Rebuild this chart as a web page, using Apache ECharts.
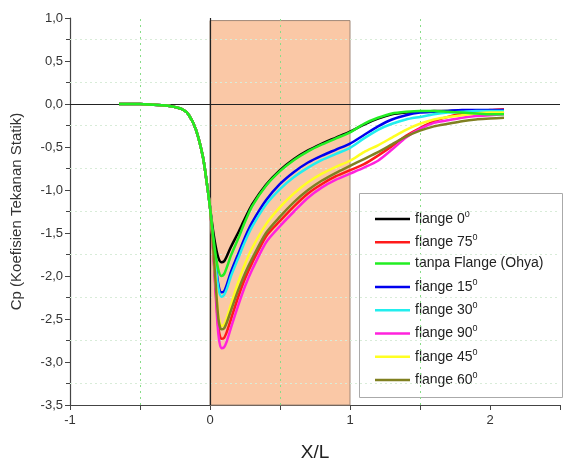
<!DOCTYPE html>
<html><head><meta charset="utf-8">
<script src="https://cdn.jsdelivr.net/npm/echarts@6/dist/echarts.min.js"></script>
<style>html,body{margin:0;padding:0;background:#fff}#c{width:569px;height:463px}</style>
</head><body><div id="c"></div>
<script>
const X = [-0.65,-0.5,-0.4,-0.3,-0.2,-0.15,-0.1,-0.05,-0.02,0,0.02,0.04,0.06,0.08,0.1,0.12,0.15,0.2,0.25,0.3,0.4,0.5,0.6,0.7,0.8,0.9,1.0,1.1,1.2,1.3,1.4,1.5,1.6,1.7,1.8,1.9,2.0,2.1];
const flange0 = [0,0,-0.01,-0.02,-0.06,-0.13,-0.3,-0.62,-0.95,-1.2,-1.45,-1.65,-1.79,-1.84,-1.83,-1.77,-1.66,-1.5,-1.33,-1.17,-0.94,-0.77,-0.64,-0.54,-0.46,-0.39,-0.32,-0.24,-0.17,-0.12,-0.1,-0.09,-0.08,-0.08,-0.08,-0.09,-0.1,-0.11];
const flange75 = [0,0,-0.01,-0.02,-0.06,-0.13,-0.3,-0.62,-0.95,-1.2,-1.62,-2.15,-2.6,-2.73,-2.72,-2.65,-2.5,-2.25,-2.03,-1.85,-1.54,-1.36,-1.19,-1.04,-0.93,-0.84,-0.77,-0.7,-0.6,-0.49,-0.37,-0.28,-0.2,-0.15,-0.11,-0.09,-0.07,-0.06];
const tanpa = [0,0,-0.01,-0.02,-0.06,-0.13,-0.3,-0.62,-0.95,-1.2,-1.5,-1.75,-1.93,-2.0,-1.98,-1.9,-1.76,-1.57,-1.37,-1.19,-0.95,-0.78,-0.65,-0.55,-0.47,-0.4,-0.33,-0.23,-0.16,-0.11,-0.09,-0.08,-0.08,-0.09,-0.1,-0.11,-0.12,-0.12];
const flange15 = [0,0,-0.01,-0.02,-0.06,-0.13,-0.3,-0.62,-0.95,-1.2,-1.55,-1.85,-2.1,-2.19,-2.18,-2.1,-1.95,-1.75,-1.55,-1.38,-1.12,-0.93,-0.79,-0.68,-0.6,-0.53,-0.46,-0.36,-0.26,-0.18,-0.13,-0.1,-0.09,-0.08,-0.07,-0.07,-0.07,-0.07];
const flange30 = [0,0,-0.01,-0.02,-0.06,-0.13,-0.3,-0.62,-0.95,-1.2,-1.55,-1.88,-2.14,-2.24,-2.22,-2.15,-2.0,-1.8,-1.6,-1.43,-1.17,-0.99,-0.85,-0.74,-0.65,-0.58,-0.51,-0.4,-0.3,-0.23,-0.18,-0.15,-0.12,-0.1,-0.09,-0.08,-0.08,-0.08];
const flange90 = [0,0,-0.01,-0.02,-0.06,-0.13,-0.3,-0.62,-0.95,-1.2,-1.63,-2.2,-2.68,-2.84,-2.83,-2.76,-2.6,-2.35,-2.12,-1.93,-1.61,-1.42,-1.25,-1.09,-0.97,-0.88,-0.81,-0.74,-0.66,-0.53,-0.39,-0.29,-0.22,-0.19,-0.16,-0.14,-0.13,-0.12];
const flange45 = [0,0,-0.01,-0.02,-0.06,-0.13,-0.3,-0.62,-0.95,-1.2,-1.6,-2.05,-2.45,-2.58,-2.57,-2.49,-2.33,-2.08,-1.86,-1.68,-1.4,-1.2,-1.04,-0.91,-0.81,-0.73,-0.66,-0.56,-0.48,-0.39,-0.3,-0.23,-0.18,-0.15,-0.13,-0.11,-0.1,-0.1];
const flange60 = [0,0,-0.01,-0.02,-0.06,-0.13,-0.3,-0.62,-0.95,-1.2,-1.6,-2.08,-2.5,-2.62,-2.61,-2.54,-2.4,-2.17,-1.97,-1.8,-1.5,-1.31,-1.14,-1.0,-0.89,-0.8,-0.72,-0.64,-0.56,-0.47,-0.38,-0.31,-0.26,-0.23,-0.2,-0.18,-0.17,-0.16];

const seriesNames = ['flange 0','flange 75','tanpa Flange (Ohya)','flange 15','flange 30','flange 90','flange 45','flange 60'];
const seriesValues = [flange0, flange75, tanpa, flange15, flange30, flange90, flange45, flange60];
const seriesColors = ['#000000','#ff1a1a','#22ee22','#0000ee','#22eeee','#ff22dd','#ffff22','#808020'];
const seriesZ = [5,5,7,5,5,5,5,5];

const xTicks = [-1,-0.5,0,0.5,1,1.5,2,2.5];
const xLabels = [-1,0,1,2];
const xDotted = [-0.5,0.5,1.5];
const yDotted = [0.75,0.25,-0.25,-0.75,-1.25,-1.75,-2.25,-2.75,-3.25];
const regionX = [0,1];
const regionY = [-3.5,0.97];

const chart = echarts.init(document.getElementById('c'));
const FONT = 'Liberation Sans, Arial, sans-serif';

const series = seriesNames.map((n,i)=>({
  name:n, type:'line', symbol:'none', smooth:0.25, z:seriesZ[i],
  lineStyle:{width:2.5,color:seriesColors[i]}, itemStyle:{color:seriesColors[i]},
  data: X.map((x,j)=>[x, seriesValues[i][j]])
}));

series.unshift({
  type:'line', data:[], z:1, silent:true,
  markArea:{silent:true, itemStyle:{color:'#fac8a6', borderColor:'#a08878', borderWidth:1},
    data:[[{xAxis:regionX[0], yAxis:regionY[0]},{xAxis:regionX[1], yAxis:regionY[1]}]]}
});
series.unshift({
  type:'line', data:[], z:2, silent:true,
  markLine:{silent:true, symbol:'none', label:{show:false},
    data:[
      ...xDotted.map(v=>({xAxis:v, lineStyle:{color:'#88dd88', type:[2,4], width:1}})),
      ...yDotted.map(v=>({yAxis:v, lineStyle:{color:'#d8ecd8', type:[2,3], width:1}})),
    ]}
});
series.push({
  type:'line', data:[], z:8, silent:true,
  markLine:{silent:true, symbol:'none', label:{show:false}, animation:false,
    data:[
      {yAxis:0, lineStyle:{color:'#222', type:'solid', width:1.2}},
      {xAxis:0, lineStyle:{color:'#222', type:'solid', width:1.2}}
    ]}
});

chart.setOption({
  animation:false,
  backgroundColor:'#fff',
  textStyle:{fontFamily:FONT},
  grid:{left:70, right:9, top:18, bottom:58, containLabel:false, outerBoundsMode:'none'},
  graphic:[{type:'rect', left:359, top:193, z:0,
    shape:{width:203, height:204}, style:{fill:'#fff', stroke:'#aaaaaa', lineWidth:1}}],
  legend:{
    data:seriesNames, orient:'vertical', left:359, top:193,
    icon:'rect', itemWidth:35, itemHeight:2.5, itemGap:7.3,
    padding:[17,8,12,16],
    textStyle:{fontFamily:FONT, fontSize:14, color:'#222',
      rich:{sup:{fontSize:9, verticalAlign:'top', padding:[0,0,9,0], color:'#222', fontFamily:FONT}}},
    formatter:n=> n.startsWith('flange') ? n+'{sup|0}' : n
  },
  xAxis:{type:'value', min:-1, max:2.5,
    name:'X/L', nameLocation:'middle', nameGap:38,
    nameTextStyle:{fontSize:19, color:'#222', fontFamily:FONT},
    axisLine:{show:true, onZero:false, lineStyle:{color:'#444', width:1.2}},
    axisTick:{show:true, customValues:xTicks, length:5, lineStyle:{color:'#444'}},
    axisLabel:{customValues:xLabels, fontSize:13, color:'#333', margin:9},
    splitLine:{show:false}},
  yAxis:{type:'value', min:-3.5, max:1.0, interval:0.5,
    name:'Cp (Koefisien Tekanan Statik)', nameLocation:'middle', nameGap:46,
    nameTextStyle:{fontSize:15, color:'#333', fontFamily:FONT},
    axisLine:{show:true, onZero:false, lineStyle:{color:'#444', width:1.2}},
    axisTick:{show:true, length:5, lineStyle:{color:'#444'}},
    minorTick:{show:true, splitNumber:2, length:4, lineStyle:{color:'#444'}},
    axisLabel:{fontSize:13, color:'#333', margin:7, formatter:v=>v.toFixed(1).replace('.',',')},
    splitLine:{show:false}},
  series:series
});
</script></body></html>
